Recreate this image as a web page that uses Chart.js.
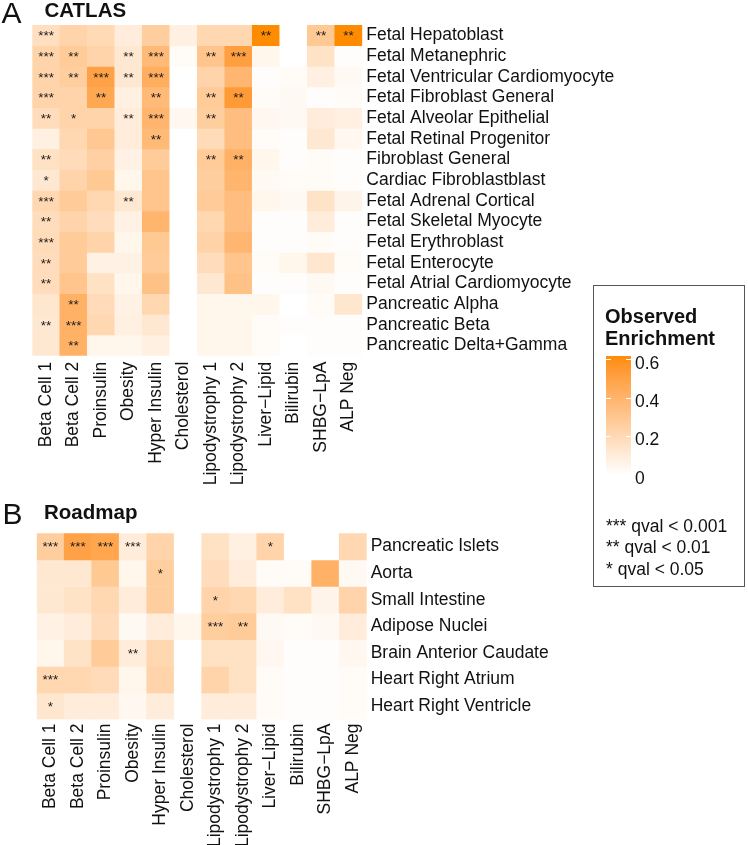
<!DOCTYPE html>
<html><head><meta charset="utf-8">
<script src="https://cdn.jsdelivr.net/npm/chart.js@4.4.1/dist/chart.umd.min.js"></script>
<style>
html,body{margin:0;padding:0;background:#fff;}
body{width:748px;height:845px;position:relative;overflow:hidden;font-family:"Liberation Sans",Arial,Helvetica,sans-serif;color:#111;}
.abs{position:absolute;white-space:nowrap;line-height:1;}
.wrap{position:absolute;left:0;width:748px;}
</style></head><body>
<div class="wrap" style="top:0;height:500px"><canvas id="c1"></canvas></div>
<div class="wrap" style="top:500px;height:345px"><canvas id="c2"></canvas></div>

<div class="abs" style="left:1.5px;top:-2.2px;font-size:30px;">A</div>
<div class="abs" style="left:44.5px;top:0px;font-size:20.5px;font-weight:bold;">CATLAS</div>
<div class="abs" style="left:2.6px;top:499.4px;font-size:30px;">B</div>
<div class="abs" style="left:44px;top:502.4px;font-size:20.5px;font-weight:bold;">Roadmap</div>

<div id="legend" style="position:absolute;left:593px;top:285px;width:152px;height:302px;border:1px solid #555;box-sizing:border-box;"></div>

<script>
// ---------- data ----------
const colLabels = ["Beta Cell 1","Beta Cell 2","Proinsulin","Obesity","Hyper Insulin","Cholesterol",
  "Lipodystrophy 1","Lipodystrophy 2","Liver\u2212Lipid","Bilirubin","SHBG\u2212LpA","ALP Neg"];

const catlasRows = ["Fetal Hepatoblast","Fetal Metanephric","Fetal Ventricular Cardiomyocyte",
  "Fetal Fibroblast General","Fetal Alveolar Epithelial","Fetal Retinal Progenitor","Fibroblast General",
  "Cardiac Fibroblastblast","Fetal Adrenal Cortical","Fetal Skeletal Myocyte","Fetal Erythroblast",
  "Fetal Enterocyte","Fetal Atrial Cardiomyocyte","Pancreatic Alpha","Pancreatic Beta","Pancreatic Delta+Gamma"];

const catlasValues = [
  [0.17,0.23,0.20,0.10,0.26,0.08,0.21,0.21,0.62,0.00,0.29,0.62],
  [0.23,0.28,0.23,0.12,0.37,0.02,0.31,0.52,0.05,0.00,0.15,0.01],
  [0.23,0.26,0.50,0.12,0.44,0.00,0.23,0.39,0.01,0.02,0.08,0.03],
  [0.23,0.23,0.47,0.08,0.37,0.00,0.28,0.54,0.02,0.03,0.01,0.02],
  [0.18,0.23,0.23,0.10,0.40,0.04,0.26,0.35,0.04,0.03,0.10,0.08],
  [0.08,0.21,0.30,0.10,0.37,0.00,0.19,0.35,0.02,0.01,0.12,0.04],
  [0.16,0.19,0.25,0.07,0.28,0.00,0.28,0.42,0.05,0.01,0.02,0.01],
  [0.12,0.23,0.29,0.05,0.31,0.00,0.26,0.40,0.03,0.02,0.02,0.01],
  [0.21,0.28,0.21,0.12,0.31,0.00,0.28,0.35,0.05,0.03,0.15,0.06],
  [0.18,0.23,0.18,0.07,0.40,0.00,0.21,0.35,0.01,0.01,0.10,0.01],
  [0.19,0.28,0.23,0.05,0.29,0.00,0.24,0.39,0.01,0.01,0.02,0.01],
  [0.18,0.28,0.07,0.07,0.28,0.00,0.18,0.31,0.02,0.05,0.13,0.02],
  [0.18,0.31,0.16,0.05,0.33,0.00,0.12,0.33,0.01,0.01,0.03,0.01],
  [0.13,0.42,0.19,0.07,0.21,0.00,0.05,0.05,0.05,0.00,0.02,0.13],
  [0.12,0.42,0.21,0.08,0.12,0.00,0.05,0.05,0.02,0.01,0.01,0.01],
  [0.12,0.42,0.05,0.05,0.08,0.00,0.05,0.05,0.02,0.00,0.01,0.01]
];

// significance: 3 = ***, 2 = **, 1 = *, 0 = none
const catlasStars = [
  [3,0,0,0,0,0,0,0,2,0,2,2],
  [3,2,0,2,3,0,2,3,0,0,0,0],
  [3,2,3,2,3,0,0,0,0,0,0,0],
  [3,0,2,0,2,0,2,2,0,0,0,0],
  [2,1,0,2,3,0,2,0,0,0,0,0],
  [0,0,0,0,2,0,0,0,0,0,0,0],
  [2,0,0,0,0,0,2,2,0,0,0,0],
  [1,0,0,0,0,0,0,0,0,0,0,0],
  [3,0,0,2,0,0,0,0,0,0,0,0],
  [2,0,0,0,0,0,0,0,0,0,0,0],
  [3,0,0,0,0,0,0,0,0,0,0,0],
  [2,0,0,0,0,0,0,0,0,0,0,0],
  [2,0,0,0,0,0,0,0,0,0,0,0],
  [0,2,0,0,0,0,0,0,0,0,0,0],
  [2,3,0,0,0,0,0,0,0,0,0,0],
  [0,2,0,0,0,0,0,0,0,0,0,0]
];

const roadmapRows = ["Pancreatic Islets","Aorta","Small Intestine","Adipose Nuclei",
  "Brain Anterior Caudate","Heart Right Atrium","Heart Right Ventricle"];

const roadmapValues = [
  [0.26,0.50,0.48,0.10,0.23,0.00,0.16,0.08,0.23,0.00,0.00,0.21],
  [0.12,0.12,0.29,0.05,0.26,0.00,0.18,0.10,0.02,0.02,0.42,0.03],
  [0.12,0.15,0.21,0.10,0.26,0.00,0.23,0.21,0.10,0.16,0.06,0.23],
  [0.07,0.10,0.19,0.03,0.10,0.05,0.26,0.28,0.03,0.02,0.03,0.10],
  [0.05,0.15,0.28,0.10,0.21,0.00,0.16,0.16,0.04,0.01,0.01,0.04],
  [0.21,0.21,0.19,0.05,0.23,0.00,0.23,0.16,0.02,0.01,0.01,0.02],
  [0.13,0.10,0.10,0.04,0.10,0.00,0.10,0.10,0.02,0.01,0.01,0.02]
];

const roadmapStars = [
  [3,3,3,3,0,0,0,0,1,0,0,0],
  [0,0,0,0,1,0,0,0,0,0,0,0],
  [0,0,0,0,0,0,1,0,0,0,0,0],
  [0,0,0,0,0,0,3,2,0,0,0,0],
  [0,0,0,2,0,0,0,0,0,0,0,0],
  [3,0,0,0,0,0,0,0,0,0,0,0],
  [1,0,0,0,0,0,0,0,0,0,0,0]
];

const legendTicks = [0, 0.2, 0.4, 0.6];
const legendStars = ["*** qval < 0.001", "** qval < 0.01", "* qval < 0.05"];
const scaleMax = 0.62;

// ---------- colour scale (white -> darkorange, interpolated in CIELAB) ----------
function toLin(c){c/=255;return c<=0.04045?c/12.92:Math.pow((c+0.055)/1.055,2.4);}
function toSrgb(c){const v=c<=0.0031308?12.92*c:1.055*Math.pow(c,1/2.4)-0.055;return Math.round(Math.max(0,Math.min(1,v))*255);}
function rgb2lab(rgb){
  const R=toLin(rgb[0]),G=toLin(rgb[1]),B=toLin(rgb[2]);
  const X=(0.4124*R+0.3576*G+0.1805*B)/0.95047, Y=(0.2126*R+0.7152*G+0.0722*B), Z=(0.0193*R+0.1192*G+0.9505*B)/1.08883;
  const f=t=>t>0.008856?Math.cbrt(t):7.787*t+16/116;
  const fx=f(X),fy=f(Y),fz=f(Z);
  return [116*fy-16,500*(fx-fy),200*(fy-fz)];
}
function lab2rgb(lab){
  const fy=(lab[0]+16)/116, fx=fy+lab[1]/500, fz=fy-lab[2]/200;
  const fi=t=>t*t*t>0.008856?t*t*t:(t-16/116)/7.787;
  const X=fi(fx)*0.95047, Y=fi(fy), Z=fi(fz)*1.08883;
  const R= 3.2406*X-1.5372*Y-0.4986*Z, G=-0.9689*X+1.8758*Y+0.0415*Z, B=0.0557*X-0.2040*Y+1.0570*Z;
  return [toSrgb(R),toSrgb(G),toSrgb(B)];
}
const lowLab = rgb2lab([255,255,255]), highLab = rgb2lab([255,140,0]);
function enrichColor(v){
  const t=Math.max(0,Math.min(1,v/scaleMax));
  const c=lab2rgb([0,1,2].map(k=>lowLab[k]+(highLab[k]-lowLab[k])*t));
  return `rgb(${c[0]},${c[1]},${c[2]})`;
}

// ---------- charts ----------
const FONT = '"Liberation Sans", Arial, Helvetica, sans-serif';
const LABEL_SIZE = 17.5;
const starPlugin = {
  id: 'stars',
  afterDatasetsDraw(chart) {
    const ctx = chart.ctx, fs = 13.5;
    ctx.save();
    ctx.font = fs + 'px ' + FONT;
    ctx.fillStyle = '#1a1a1a';
    ctx.textAlign = 'center';
    ctx.textBaseline = 'alphabetic';
    chart.data.datasets.forEach((ds, di) => {
      chart.getDatasetMeta(di).data.forEach((el, j) => {
        const n = ds.stars[j];
        if (!n) return;
        const p = el.getProps(['x','y','base'], true);
        ctx.fillText('*'.repeat(n), p.x, (p.y + p.base) / 2 + 0.36 * fs);
      });
    });
    ctx.restore();
  }
};

function makeHeatmap(id, rows, values, stars, g) {
  const datasets = rows.map((r, i) => ({
    label: r,
    data: colLabels.map(() => [i, i + 1]),
    backgroundColor: values[i].map(enrichColor),
    borderWidth: 0,
    barPercentage: 1,
    categoryPercentage: 1,
    stars: stars[i]
  }));
  return new Chart(document.getElementById(id), {
    type: 'bar',
    data: { labels: colLabels, datasets },
    plugins: [starPlugin],
    options: {
      responsive: true, maintainAspectRatio: false, animation: false,
      layout: { padding: { left: g.left, top: g.top, right: 0, bottom: 0 } },
      plugins: { legend: { display: false }, tooltip: { enabled: false }, title: { display: false } },
      scales: {
        x: {
          type: 'category', stacked: true, offset: true,
          grid: { display: false, drawTicks: false }, border: { display: false },
          ticks: { minRotation: 90, maxRotation: 90, autoSkip: false, padding: g.xPad,
                   color: '#111', font: { size: LABEL_SIZE, family: FONT } },
          afterFit: s => { s.height = g.xHeight; }
        },
        y: {
          type: 'linear', position: 'right', reverse: true, stacked: false,
          min: 0, max: rows.length,
          grid: { display: false, drawTicks: false }, border: { display: false },
          afterBuildTicks: axis => { axis.ticks = rows.map((r, i) => ({ value: i + 0.5 })); },
          ticks: { autoSkip: false, padding: g.yPad, color: '#111', font: { size: LABEL_SIZE, family: FONT },
                   callback: (v, i) => rows[i] },
          afterFit: s => { s.width = g.yWidth; }
        }
      }
    }
  });
}

makeHeatmap('c1', catlasRows, catlasValues, catlasStars,
  { left: 32.3, top: 25, xHeight: 500 - 355.7, yWidth: 748 - 362.3, xPad: 6, yPad: 4 });
makeHeatmap('c2', roadmapRows, roadmapValues, roadmapStars,
  { left: 36.7, top: 33.3, xHeight: 345 - 219.5, yWidth: 748 - 366.7, xPad: 4, yPad: 4 });

// ---------- legend ----------
(function(){
  const body = document.body;
  function add(html, css){ const d=document.createElement('div'); d.className='abs'; d.innerHTML=html; Object.assign(d.style, css); body.appendChild(d); return d; }
  add('Observed<br>Enrichment', { left:'605px', top:'305px', fontSize:'20px', fontWeight:'bold', lineHeight:'22.3px' });
  const barTop = 356, barBottom = 474.5, barLeft = 606, barW = 25;
  const stops = [];
  for (let k = 0; k <= 20; k++) { const v = scaleMax * k / 20; stops.push(enrichColor(v) + ' ' + (k*5) + '%'); }
  add('', { left: barLeft+'px', top: barTop+'px', width: barW+'px', height: (barBottom-barTop)+'px',
            background: 'linear-gradient(to top,' + stops.join(',') + ')' });
  legendTicks.forEach(t => {
    const y = barBottom - t / scaleMax * (barBottom - barTop);
    if (t > 0) {
      add('', { left: barLeft+'px', top: (y-0.5)+'px', width:'5px', height:'1px', background:'#fff' });
      add('', { left: (barLeft+barW-5)+'px', top: (y-0.5)+'px', width:'5px', height:'1px', background:'#fff' });
    }
    add(String(t), { left:'635px', top: (y + 9.8 - 14.8)+'px', fontSize:'17.5px' });
  });
  legendStars.forEach((s, i) => {
    add(s, { left:'606px', top: (532.3 + i*21.7 - 14.8)+'px', fontSize:'17.5px' });
  });
})();
</script>
</body></html>
